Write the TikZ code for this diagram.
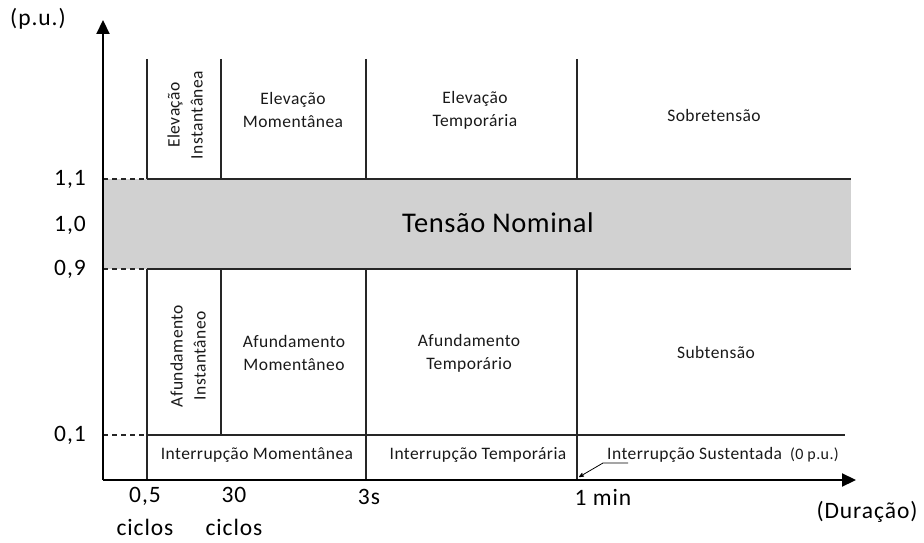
\documentclass[tikz,border=0pt]{standalone}
\usepackage{fontspec}
\setmainfont{Carlito}
\usetikzlibrary{arrows}
\usetikzlibrary{arrows.meta}
\tikzset{>=stealth'}
\tikzset{axis/.style={line width=2.2pt,-{Triangle[length=14pt,width=13pt]}}}
\tikzset{sep/.style={line width=1.3pt,black!85}}
\tikzset{ext/.style={line width=1.3pt,dashed,dash pattern=on 5pt off 4pt,black!85}}
\tikzset{tick/.style={inner sep=0pt,font=\fontsize{23.5}{33}\selectfont\addfontfeature{LetterSpace=4},align=center}}
\tikzset{reg/.style={inner sep=0pt,font=\fontsize{17.5}{23}\selectfont\addfontfeature{LetterSpace=2.5},align=center,text=black!90}}
\tikzset{band/.style={fill=black!18}}

\begin{document}
\begin{tikzpicture}[x=1pt,y=-1pt]
\useasboundingbox (0,0) rectangle (924,543);

% axes
\coordinate (O) at (103,480);
\coordinate (ytip) at (103,20);
\coordinate (xtip) at (856,480);

% nominal band
\fill[band] (104,179) rectangle (851,269);
\node[tick,font=\fontsize{28.5}{30}\selectfont\addfontfeature{LetterSpace=2}] (nom) at (498,223) {Tensão Nominal};

% level lines
\draw[ext] (103,179) -- (147,179);
\draw[ext] (103,269) -- (147,269);
\draw[ext] (103,435) -- (147,435);
\draw[sep] (147,179) -- (851,179);
\draw[sep] (147,269) -- (851,269);
\draw[sep] (147,435) -- (845,435);

% duration limits
\draw[sep] (147,59) -- (147,179);
\draw[sep] (221,59) -- (221,179);
\draw[sep] (366,59) -- (366,179);
\draw[sep] (577,59) -- (577,179);
\draw[sep] (147,269) -- (147,480);
\draw[sep] (221,269) -- (221,435);
\draw[sep] (366,269) -- (366,480);
\draw[sep] (577,269) -- (577,480);

\draw[axis] (O) -- (ytip);
\draw[axis] (O) -- (xtip);

% axis labels
\node[tick] (pu) at (38,19) {(p.u.)};
\node[tick] (dur) at (867,512) {(Duração)};
\node[tick] (y11) at (70,179) {1,1};
\node[tick] (y10) at (70,225) {1,0};
\node[tick] (y09) at (70,269) {0,9};
\node[tick] (y01) at (70,435) {0,1};
\node[tick] (x05) at (145,511) {0,5\\ciclos};
\node[tick] (x30) at (234,511) {30\\ciclos};
\node[tick] (x3s) at (369,497) {3s};
\node[tick] (x1m) at (603,497) {1 min};

% regions
\node[reg,rotate=90] (elI) at (185,115) {Elevação\\Instantânea};
\node[reg] (elM) at (293,110) {Elevação\\Momentânea};
\node[reg] (elT) at (475,110) {Elevação\\Temporária};
\node[reg] (sob) at (714,115) {Sobretensão};
\node[reg,rotate=90] (afI) at (188,356) {Afundamento\\Instantâneo};
\node[reg] (afM) at (294,353) {Afundamento\\Momentâneo};
\node[reg] (afT) at (469,353) {Afundamento\\Temporário};
\node[reg] (sub) at (716,352) {Subtensão};
\node[reg] (inM) at (257,455) {Interrupção Momentânea};
\node[reg] (inT) at (478,455) {Interrupção Temporária};
\node[reg,anchor=west] (inS) at (607,455) {Interrupção Sustentada\hspace{8pt}{\fontsize{16}{16}\selectfont (0 p.u.)}};

\coordinate (m1) at (579,477);
\coordinate (s1) at (628,463);
\draw[->,line width=0.8pt] (s1) -- ++(-25,0) -- (m1);

\end{tikzpicture}
\end{document}
